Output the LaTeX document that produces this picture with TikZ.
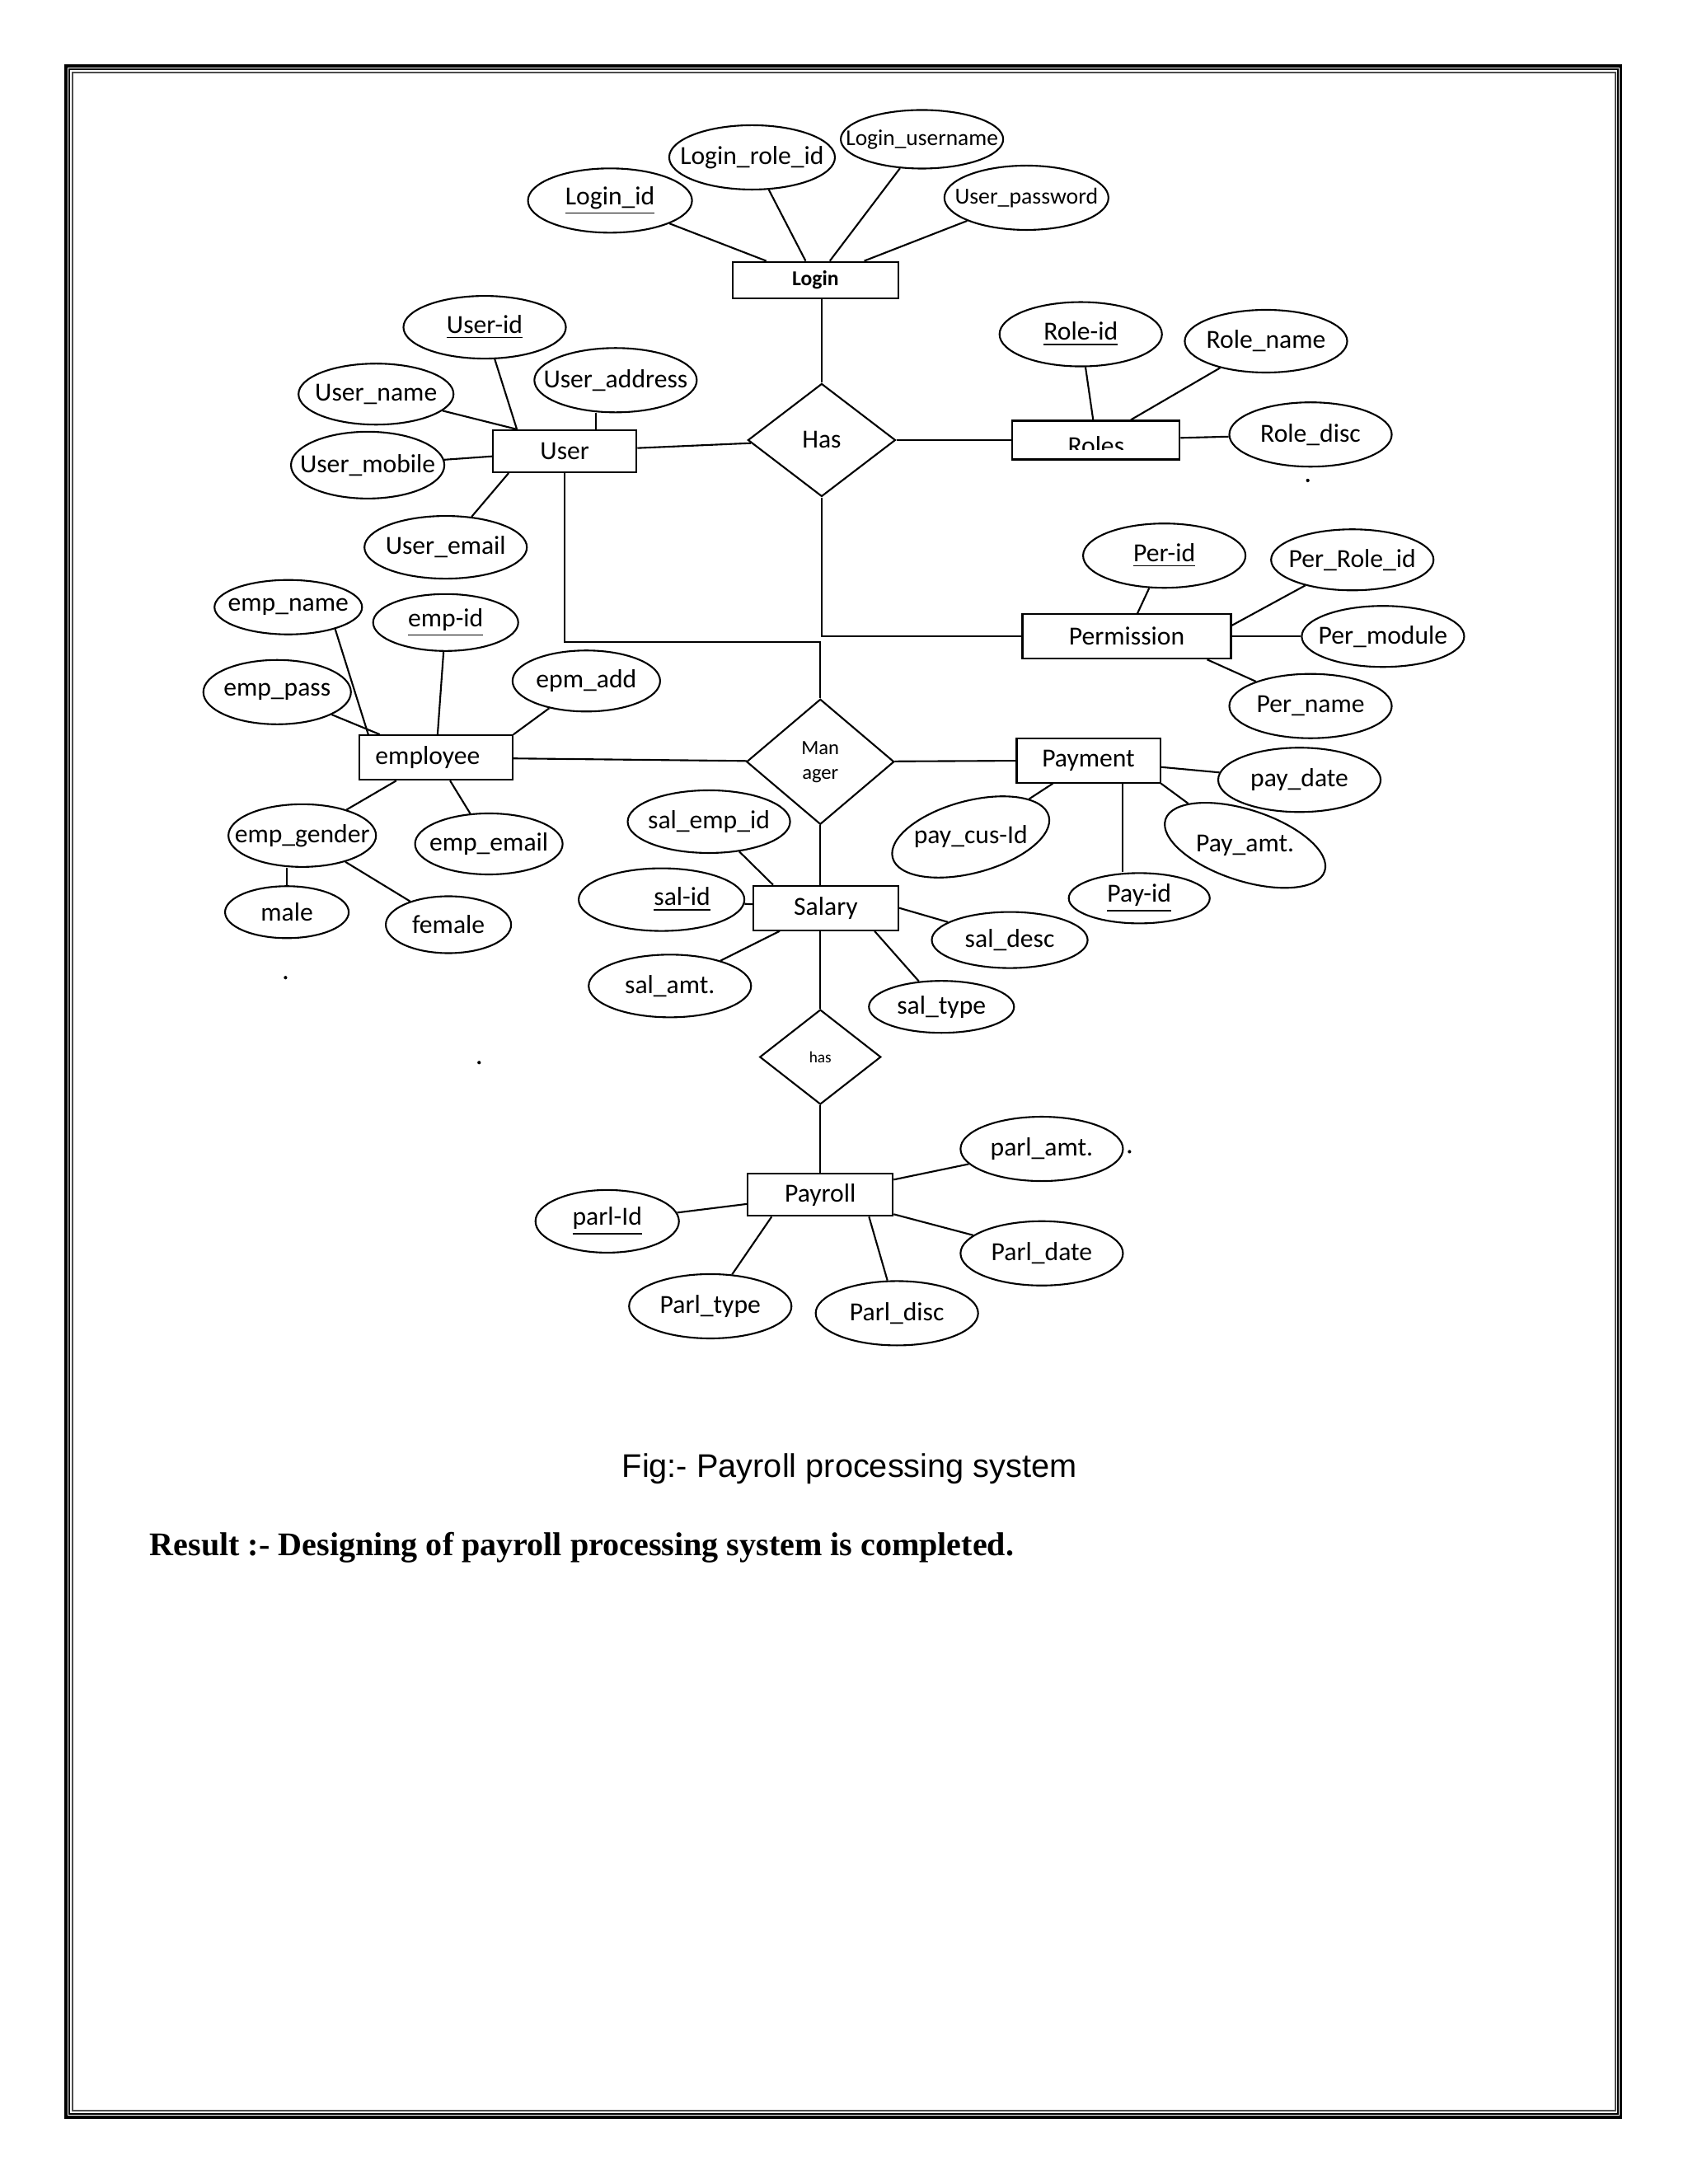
\documentclass[tikz,border=0pt]{standalone}
\usepackage{fontspec}
\setmainfont{Carlito}
\newfontfamily\arialfont{Liberation Sans}
\newfontfamily\timesfont{Liberation Serif}
\usetikzlibrary{shapes.geometric}

\begin{document}
\begin{tikzpicture}[x=0.016898cm, y=-0.016898cm, line width=0.6pt,
  attr/.style={ellipse, draw, inner sep=0pt, minimum width=1.97cm, minimum height=0.78cm, font=\fontsize{9}{10}\selectfont,
    execute at begin node=\hbox to 0pt\bgroup\hss, execute at end node=\hss\egroup},
  empattr/.style={attr, minimum width=1.79cm, minimum height=0.74cm},
  entity/.style={rectangle, draw, inner sep=0pt, minimum width=1.76cm, minimum height=0.54cm, font=\fontsize{9}{10}\selectfont},
  rel/.style={diamond, draw, inner sep=0pt, minimum width=1.79cm, minimum height=1.37cm, font=\fontsize{9}{10}\selectfont}]
\useasboundingbox (0,0) rectangle (1212,1568.3);
\draw[line width=1pt] (47.3,47.3) rectangle (1163.8,1520.2);
\draw[line width=0.4pt] (49.7,49.7) rectangle (1161.8,1518);
\draw[line width=0.6pt, black!70] (52.1,52.1) rectangle (1160,1515.6);

\node[entity, minimum width=2.01cm, minimum height=0.44cm, font=\fontsize{7.3}{8}\selectfont\bfseries] (Login) at (585.5,201) {Login};
\node[attr, minimum width=1.99cm] (LoginId) at (438,144) {\underline{Login\_id}};
\node[attr, minimum width=2.01cm] (LoginRoleId) at (540,113) {Login\_role\_id};
\node[attr, minimum height=0.71cm, font=\fontsize{7.8}{9}\selectfont] (LoginUsername) at (662,100) {Login\_username};
\node[attr, minimum width=1.99cm, font=\fontsize{7.9}{9}\selectfont] (UserPassword) at (737,142) {User\_password};
\foreach \a in {LoginId,LoginRoleId,LoginUsername,UserPassword}
	\draw (\a) -- (Login);

\node[rel] (Has) at (590,316) {Has};
\draw (Has.north) -- (Has.north |- Login.south);

\node[entity, minimum width=1.74cm, minimum height=0.51cm] (User) at (405.5,324) {User};
\node[attr, minimum height=0.76cm] (UserId) at (348,235) {\underline{User-id}};
\node[attr] (UserAddress) at (442,273) {User\_address};
\node[attr, minimum width=1.88cm, minimum height=0.74cm] (UserName) at (270,283) {User\_name};
\node[attr, minimum width=1.86cm, minimum height=0.81cm] (UserMobile) at (264,334) {User\_mobile};
\node[attr, minimum height=0.76cm] (UserEmail) at (320,393) {User\_email};
\draw (UserId) -- ([xshift=0.3cm]User.north west);
\draw (UserName) -- ([xshift=0.3cm]User.north west);
\draw ([xshift=-0.24cm]UserAddress.south) -- ([xshift=-0.24cm]UserAddress.south |- User.north);
\draw (UserMobile) -- (User);
\draw (UserEmail) -- ([xshift=0.2cm]User.south west);
\draw (User) -- (Has);

\node[entity, minimum width=2.03cm, minimum height=0.47cm,
  path picture={\clip ([yshift=3.3pt]path picture bounding box.south west) rectangle (path picture bounding box.north east);
  \node[anchor=base, inner sep=0pt, font=\fontsize{9}{10}\selectfont] (rolesLabel) at ([yshift=1.7pt]path picture bounding box.south) {Roles};}] (Roles) at (787,316) {};
\node[attr] (RoleId) at (776,240) {\underline{Role-id}};
\node[attr, minimum height=0.76cm] (RoleName) at (909,245) {Role\_name};
\node[attr] (RoleDisc) at (941,312) {Role\_disc};
\foreach \a in {RoleId,RoleName,RoleDisc}
	\draw (\a) -- (Roles);
\draw (Has) -- (Roles);

\node[entity, minimum width=2.53cm] (Permission) at (809,457) {Permission};
\node[attr] (PerId) at (836,399) {\underline{Per-id}};
\node[attr, minimum height=0.74cm] (PerRoleId) at (971,402) {Per\_Role\_id};
\node[attr, minimum height=0.74cm] (PerModule) at (993,457) {Per\_module};
\node[attr] (PerName) at (941,507) {Per\_name};
\draw (PerId) -- (Permission);
\draw (PerRoleId) -- ([yshift=3.8pt]Permission.east);
\draw (PerModule) -- (Permission);
\draw (PerName) -- ([xshift=-0.3cm]Permission.south east);
\draw (Has.south) |- (Permission.west);

\node[rel, minimum height=1.52cm, align=center, font=\fontsize{7}{8.5}\selectfont] (Manager) at (589,547) {Man\\ager};
\coordinate (userBend) at (589,461);
\draw (User.south) |- (userBend) -- (Manager.north);

\node[entity, minimum width=1.86cm] (Employee) at (313,544) {\hspace*{-0.2cm}employee};
\node[empattr, minimum height=0.66cm] (EmpName) at (207,436) {emp\_name};
\node[empattr, minimum width=1.76cm, minimum height=0.69cm] (EmpId) at (320,447) {\underline{emp-id}};
\node[empattr, minimum height=0.78cm] (EmpPass) at (199,497) {emp\_pass};
\node[empattr] (EpmAdd) at (421,489) {epm\_add};
\node[empattr, minimum height=0.76cm] (EmpGender) at (217,600) {emp\_gender};
\node[empattr] (EmpEmail) at (351,606) {emp\_email};
\node[attr, minimum width=1.5cm, minimum height=0.63cm] (Male) at (206,655) {male};
\node[attr, minimum width=1.52cm, minimum height=0.69cm] (Female) at (322,664) {female};
\draw (EmpName.-25) -- ([xshift=0.12cm]Employee.north west);
\draw (EmpId) -- (Employee);
\draw (EmpPass) -- (Employee);
\draw (EpmAdd) -- (Employee.north east);
\draw (EmpGender) -- (Employee);
\draw (EmpEmail) -- (Employee);
\draw (Male.north) -- (Male.north |- EmpGender.south);
\draw (Female) -- (EmpGender);
\draw (Employee) -- (Manager);

\node[entity, minimum width=1.74cm] (Payment) at (781.5,546) {Payment};
\node[attr] (PayDate) at (933,560) {pay\_date};
\node[attr, minimum width=1.96cm, minimum height=0.71cm, rotate=15] (PayCusId) at (697,601) {\rotatebox{-15}{pay\_cus-Id}};
\node[attr, minimum width=2.03cm, minimum height=0.74cm, rotate=-18] (PayAmt) at (894,607) {\rotatebox{18}{Pay\_amt.}};
\node[attr, minimum width=1.71cm, minimum height=0.61cm] (PayId) at (818,645) {\underline{Pay-id}};
\draw (PayDate) -- (Payment);
\draw (PayCusId) -- (Payment);
\draw ([xshift=-0.2cm]PayId.north) -- ([xshift=-0.2cm]PayId.north |- Payment.south);
\draw (PayAmt) -- (Payment.south east);
\draw (Manager) -- (Payment);

\node[entity] (Salary) at (593,652) {Salary};
\node[attr, minimum height=0.76cm] (SalEmpId) at (509,590) {sal\_emp\_id};
\node[attr, minimum width=2.01cm, minimum height=0.76cm] (SalId) at (475,646) {\hspace*{0.5cm}\underline{sal-id}};
\node[attr, minimum height=0.76cm] (SalAmt) at (481,708) {sal\_amt.};
\node[attr, minimum width=1.89cm, minimum height=0.68cm] (SalDesc) at (725,675) {sal\_desc};
\node[attr, minimum width=1.76cm, minimum height=0.63cm] (SalType) at (676,723) {sal\_type};
\draw (SalEmpId) -- ([xshift=0.25cm]Salary.north west);
\draw (SalId) -- (Salary);
\draw (SalAmt) -- (Salary);
\draw (SalDesc) -- (Salary.east);
\draw (SalType) -- ([xshift=-0.3cm]Salary.south east);
\draw (Manager.south) -- (Manager.south |- Salary.north);

\node[rel, minimum width=1.47cm, minimum height=1.15cm, font=\fontsize{5.5}{6}\selectfont] (HasPay) at (589,759) {has};
\draw (HasPay.north) -- (HasPay.north |- Salary.south);

\node[entity, minimum height=0.51cm] (Payroll) at (589,858) {Payroll};
\node[attr] (ParlAmt) at (748,825) {parl\_amt.};
\node[attr, minimum width=1.74cm, minimum height=0.76cm] (ParlId) at (436,877) {\underline{parl-Id}};
\node[attr] (ParlDate) at (748,900) {Parl\_date};
\node[attr] (ParlType) at (510,938) {Parl\_type};
\node[attr] (ParlDisc) at (644,943) {Parl\_disc};
\draw (ParlAmt) -- (Payroll);
\draw (ParlId) -- (Payroll);
\draw (ParlDate) -- (Payroll);
\draw (ParlType) -- ([xshift=0.3cm]Payroll.south west);
\draw (ParlDisc) -- ([xshift=-0.3cm]Payroll.south east);
\draw (HasPay) -- (Payroll);

\foreach \p in {{939,345},{205,702},{344,763},{811,827}}
	\fill (\p) circle (0.6pt);

\node[anchor=base, font=\arialfont\fontsize{11.3}{13}\selectfont] (figCaption) at (610,1061) {Fig:- Payroll processing system};
\node[anchor=base west, inner sep=0pt, font=\timesfont\bfseries\fontsize{11.4}{13}\selectfont] (resultLine) at (107,1117) {Result :- Designing of payroll processing system is completed.};
\end{tikzpicture}
\end{document}
